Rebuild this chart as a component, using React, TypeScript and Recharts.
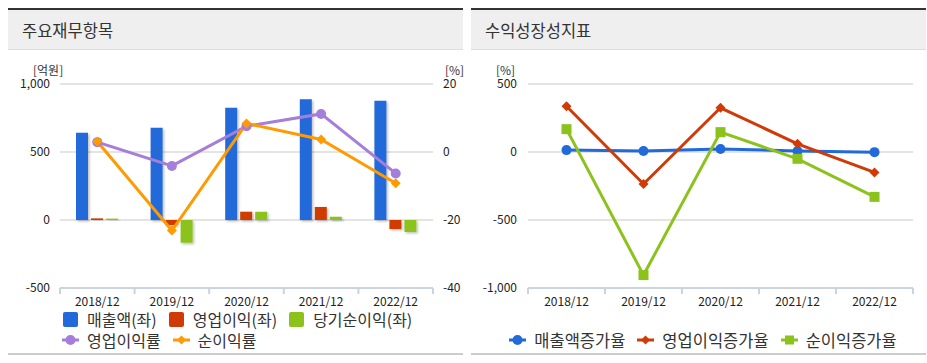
import * as React from "react";
import {
  ComposedChart,
  LineChart,
  Bar,
  Line,
  XAxis,
  YAxis,
  CartesianGrid,
} from "recharts";

const categories = ["2018/12", "2019/12", "2020/12", "2021/12", "2022/12"];

// 주요재무항목 (억원 / %)
const sales = [642, 679, 826, 887, 877];
const opProfit = [12, -37, 61, 96, -66];
const netProfit = [10, -167, 61, 24, -88];
const opMargin = [2.9, -4.1, 7.6, 11.2, -6.3];
const netMargin = [3.1, -23.1, 8.4, 3.7, -9.2];

// 수익성장성지표 (%)
const salesGrowth = [14, 8, 22, 8, -1];
const opGrowth = [336, -235, 325, 60, -150];
const netGrowth = [168, -905, 146, -50, -330];

const leftTicks = [-500, 0, 500, 1000];
const rightTicks = [-40, -20, 0, 20];
const growthTicks = [-1000, -500, 0, 500];

const BLUE = "#2269d9";
const RED = "#d03a06";
const GREEN = "#8cc21c";
const PURPLE = "#a57ddb";
const ORANGE = "#ff9a00";
const AXIS = "#c9d4e0";
const FONT = "'Noto Sans CJK KR', 'Noto Sans', sans-serif";

const financeData = categories.map((c, i) => ({
  name: c,
  sales: sales[i],
  opProfit: opProfit[i],
  netProfit: netProfit[i],
  opMargin: opMargin[i],
  netMargin: netMargin[i],
}));

const growthData = categories.map((c, i) => ({
  name: c,
  salesGrowth: salesGrowth[i],
  opGrowth: opGrowth[i],
  netGrowth: netGrowth[i],
}));

const fmt = (v: number) => v.toLocaleString("en-US");

function Diamond(props: any) {
  const { cx, cy, fill } = props;
  if (cx == null || cy == null) return null;
  const s = 5;
  return (
    <path
      d={`M${cx},${cy - s} L${cx + s},${cy} L${cx},${cy + s} L${cx - s},${cy} Z`}
      fill={fill}
    />
  );
}

function Square(props: any) {
  const { cx, cy, fill } = props;
  if (cx == null || cy == null) return null;
  return <rect x={cx - 5} y={cy - 5} width={10} height={10} fill={fill} />;
}

function Dot(props: any) {
  const { cx, cy, fill } = props;
  if (cx == null || cy == null) return null;
  return <circle cx={cx} cy={cy} r={5} fill={fill} />;
}

function makeTick(band: number) {
  return function CatTick(props: any) {
    const { x, y, payload, index } = props;
    return (
      <g>
        <text
          x={x}
          y={y + 18}
          textAnchor="middle"
          fontSize={12}
          fill="#222"
          fontFamily={FONT}
        >
          {payload.value}
        </text>
        <line x1={x - band / 2} x2={x - band / 2} y1={y} y2={y + 6} stroke={AXIS} strokeWidth={2} />
        {index === categories.length - 1 && (
          <line x1={x + band / 2} x2={x + band / 2} y1={y} y2={y + 6} stroke={AXIS} strokeWidth={2} />
        )}
      </g>
    );
  };
}

const tickStyle = { fontSize: 12, fill: "#222", fontFamily: FONT };

function SquareIcon({ color }: { color: string }) {
  return (
    <svg width={17} height={15} style={{ marginRight: 8, flexShrink: 0 }}>
      <rect x={1} y={0} width={15} height={15} rx={2} fill={color} />
    </svg>
  );
}

function LineIcon({ color, shape }: { color: string; shape: "circle" | "diamond" | "square" }) {
  return (
    <svg width={17} height={12} style={{ marginRight: 8, flexShrink: 0 }}>
      <line x1={0} x2={17} y1={6} y2={6} stroke={color} strokeWidth={3} />
      {shape === "circle" && <circle cx={8.5} cy={6} r={5} fill={color} />}
      {shape === "diamond" && <path d="M8.5,1.5 L13,6 L8.5,10.5 L4,6 Z" fill={color} />}
      {shape === "square" && <rect x={4} y={1.5} width={9} height={9} fill={color} />}
    </svg>
  );
}

function LegendItem({
  icon,
  label,
  gap = 11,
  size = 16,
}: {
  icon: React.ReactNode;
  label: string;
  gap?: number;
  size?: number;
}) {
  return (
    <div style={{ display: "flex", alignItems: "center", marginRight: gap, height: 16 }}>
      {icon}
      <span style={{ fontSize: size, lineHeight: "16px", color: "#333", whiteSpace: "nowrap" }}>{label}</span>
    </div>
  );
}

function Panel({ left, title }: { left: number; title: string }) {
  return (
    <div
      style={{
        position: "absolute",
        left,
        top: 8,
        width: 455,
        height: 347,
        borderTop: "2px solid #333",
        borderBottom: "2px solid #cccccc",
        boxSizing: "border-box",
      }}
    >
      <div
        style={{
          height: 40,
          background: "#efefef",
          borderBottom: "1px solid #dddddd",
          boxSizing: "border-box",
          paddingLeft: 14,
          lineHeight: "40px",
          fontSize: 16.5,
          color: "#333",
        }}
      >
        {title}
      </div>
    </div>
  );
}

export default function App() {
  const unitStyle: React.CSSProperties = {
    position: "absolute",
    fontSize: 12,
    color: "#333",
    lineHeight: "12px",
    top: 64,
  };

  return (
    <div
      style={{
        position: "absolute",
        left: 0,
        top: 0,
        width: 927,
        height: 363,
        background: "#fff",
        fontFamily: FONT,
        overflow: "hidden",
      }}
    >
      <Panel left={8} title="주요재무항목" />
      <Panel left={471} title="수익성장성지표" />

      <div style={{ ...unitStyle, left: 33 }}>[억원]</div>
      <div style={{ ...unitStyle, left: 445 }}>[%]</div>
      <div style={{ ...unitStyle, left: 496 }}>[%]</div>

      <div style={{ position: "absolute", left: 8, top: 60 }}>
        <svg width={0} height={0} style={{ position: "absolute" }}>
          <defs>
            <filter id="barShadow" x="-20%" y="-20%" width="160%" height="160%">
              <feDropShadow dx={1.5} dy={1.5} stdDeviation={0.8} floodColor="#000" floodOpacity={0.25} />
            </filter>
          </defs>
        </svg>
        <ComposedChart
          width={455}
          height={250}
          data={financeData}
          margin={{ top: 24, right: 0, bottom: 0, left: 0 }}
          barGap={3}
          barSize={12}
        >
          <CartesianGrid
            yAxisId="left"
            vertical={false}
            stroke="#e4e4e4"
            strokeWidth={2}
          />
          <XAxis
            dataKey="name"
            height={22}
            tickSize={0}
            tickMargin={0}
            tickLine={false}
            axisLine={{ stroke: AXIS, strokeWidth: 2 }}
            tick={makeTick(373 / 5)}
            interval={0}
          />
          <YAxis
            yAxisId="left"
            width={52}
            domain={[-500, 1000]}
            ticks={leftTicks}
            tickFormatter={fmt}
            tickSize={0}
            tickMargin={10}
            axisLine={false}
            tickLine={false}
            tick={tickStyle}
          />
          <YAxis
            yAxisId="right"
            orientation="right"
            width={30}
            domain={[-40, 20]}
            ticks={rightTicks}
            tickSize={0}
            tickMargin={10}
            axisLine={false}
            tickLine={false}
            tick={{ ...tickStyle, textAnchor: "start" }}
          />
          <Bar yAxisId="left" dataKey="sales" fill={BLUE} filter="url(#barShadow)" isAnimationActive={false} />
          <Bar yAxisId="left" dataKey="opProfit" fill={RED} filter="url(#barShadow)" isAnimationActive={false} />
          <Bar yAxisId="left" dataKey="netProfit" fill={GREEN} filter="url(#barShadow)" isAnimationActive={false} />
          <Line
            yAxisId="right"
            dataKey="opMargin"
            stroke={PURPLE}
            strokeWidth={3}
            dot={<Dot fill={PURPLE} />}
            activeDot={false}
            isAnimationActive={false}
          />
          <Line
            yAxisId="right"
            dataKey="netMargin"
            stroke={ORANGE}
            strokeWidth={3}
            dot={<Diamond fill={ORANGE} />}
            activeDot={false}
            isAnimationActive={false}
          />
        </ComposedChart>
      </div>

      <div style={{ position: "absolute", left: 471, top: 60 }}>
        <LineChart
          width={455}
          height={250}
          data={growthData}
          margin={{ top: 24, right: 13, bottom: 0, left: 0 }}
        >
          <CartesianGrid vertical={false} stroke="#e4e4e4" strokeWidth={2} />
          <XAxis
            dataKey="name"
            height={22}
            padding={{ left: 38.5, right: 38.5 }}
            tickSize={0}
            tickMargin={0}
            tickLine={false}
            axisLine={{ stroke: AXIS, strokeWidth: 2 }}
            tick={makeTick(385 / 5)}
            interval={0}
          />
          <YAxis
            width={57}
            domain={[-1000, 500]}
            ticks={growthTicks}
            tickFormatter={fmt}
            tickSize={0}
            tickMargin={11}
            axisLine={false}
            tickLine={false}
            tick={tickStyle}
          />
          <Line
            dataKey="salesGrowth"
            stroke={BLUE}
            strokeWidth={3}
            dot={<Dot fill={BLUE} />}
            activeDot={false}
            isAnimationActive={false}
          />
          <Line
            dataKey="opGrowth"
            stroke={RED}
            strokeWidth={3}
            dot={<Diamond fill={RED} />}
            activeDot={false}
            isAnimationActive={false}
          />
          <Line
            dataKey="netGrowth"
            stroke={GREEN}
            strokeWidth={3}
            dot={<Square fill={GREEN} />}
            activeDot={false}
            isAnimationActive={false}
          />
        </LineChart>
      </div>

      <div style={{ position: "absolute", left: 62, top: 311, display: "flex", alignItems: "center", height: 16 }}>
        <LegendItem icon={<SquareIcon color={BLUE} />} label="매출액(좌)" />
        <LegendItem icon={<SquareIcon color={RED} />} label="영업이익(좌)" />
        <LegendItem icon={<SquareIcon color={GREEN} />} label="당기순이익(좌)" />
      </div>
      <div style={{ position: "absolute", left: 62, top: 332, display: "flex", alignItems: "center", height: 16 }}>
        <LegendItem icon={<LineIcon color={PURPLE} shape="circle" />} label="영업이익률" gap={12} />
        <LegendItem icon={<LineIcon color={ORANGE} shape="diamond" />} label="순이익률" />
      </div>

      <div
        style={{
          position: "absolute",
          left: 471,
          width: 455,
          top: 332,
          height: 16,
          display: "flex",
          justifyContent: "center",
          alignItems: "center",
          paddingLeft: 9,
          boxSizing: "border-box",
        }}
      >
        <LegendItem icon={<LineIcon color={BLUE} shape="circle" />} label="매출액증가율" gap={12} size={16.5} />
        <LegendItem icon={<LineIcon color={RED} shape="diamond" />} label="영업이익증가율" gap={12} size={16.5} />
        <LegendItem icon={<LineIcon color={GREEN} shape="square" />} label="순이익증가율" gap={0} size={16.5} />
      </div>
    </div>
  );
}
